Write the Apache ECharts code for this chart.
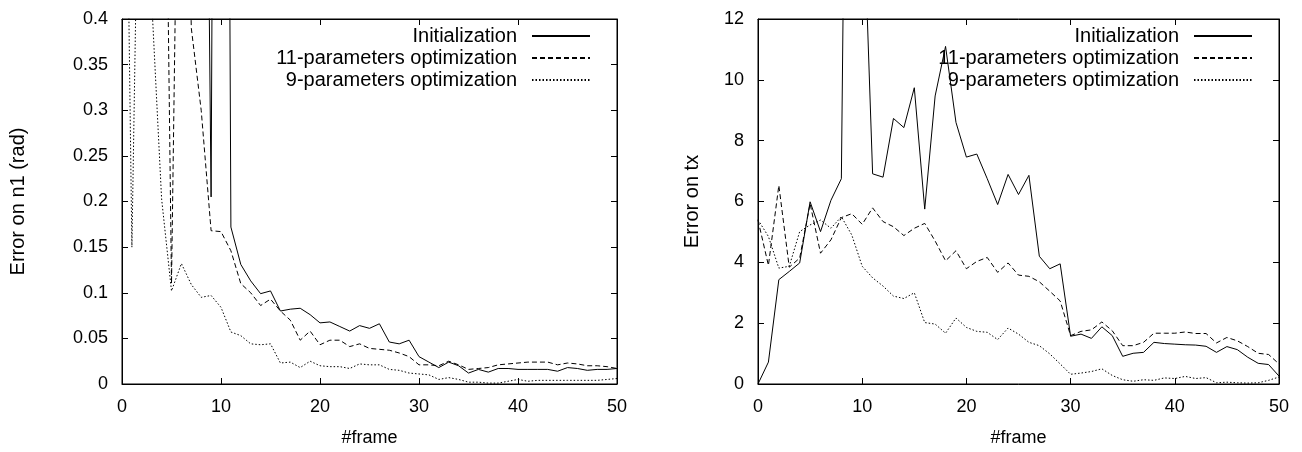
<!DOCTYPE html>
<html>
<head>
<meta charset="utf-8">
<script src="https://cdn.jsdelivr.net/npm/echarts@6/dist/echarts.min.js"></script>
<style>
html,body{margin:0;padding:0;background:#fff;}
#chart{width:1302px;height:452px;}
</style>
</head>
<body>
<div id="chart"></div>
<script>
// ---- data ----
const frames = [0,1,2,3,4,5,6,7,8,9,10,11,12,13,14,15,16,17,18,19,20,21,22,23,24,25,26,27,28,29,30,31,32,33,34,35,36,37,38,39,40,41,42,43,44,45,46,47,48,49,50];
const seriesNames = ['Initialization', '11-parameters optimization', '9-parameters optimization'];

// Left panel: error on n1 (rad)  (values above 0.4 are off the chart)
const initN1 = [1.8,1.6,1.9,2.1,1.7,1.5,1.4,1.6,1.3,0.205,2.5,
  0.172,0.131,0.113,0.099,0.102,0.080,0.082,0.083,0.076,0.067,
  0.068,0.063,0.058,0.064,0.061,0.066,0.046,0.044,0.048,0.030,
  0.024,0.018,0.024,0.020,0.012,0.016,0.013,0.017,0.017,0.016,
  0.016,0.016,0.016,0.014,0.018,0.017,0.015,0.016,0.016,0.017];
const opt11N1 = [1.2,1.4,1.1,1.3,1.0,0.11,0.9,0.39,0.30,0.168,0.167,
  0.146,0.110,0.100,0.086,0.093,0.080,0.070,0.048,0.058,0.043,
  0.048,0.048,0.041,0.044,0.039,0.038,0.037,0.034,0.030,0.021,
  0.021,0.020,0.025,0.021,0.016,0.017,0.018,0.021,0.022,0.023,
  0.024,0.024,0.024,0.021,0.023,0.022,0.020,0.020,0.019,0.017];
const opt9N1 = [0.98,0.15,0.82,0.42,0.203,0.102,0.132,0.109,0.095,0.097,0.084,
  0.057,0.053,0.044,0.043,0.044,0.023,0.024,0.018,0.025,0.020,
  0.019,0.019,0.017,0.022,0.021,0.021,0.016,0.015,0.012,0.011,
  0.010,0.005,0.007,0.005,0.002,0.002,0.001,0.001,0.003,0.005,
  0.003,0.004,0.004,0.004,0.004,0.004,0.004,0.004,0.005,0.006];

// Right panel: error on tx  (values above 12 are off the chart)
const initTx = [0,0.72,3.43,3.7,3.98,5.99,5.01,6.04,6.75,40,
  17,6.91,6.8,8.73,8.43,9.74,5.75,9.47,11.1,8.6,
  7.46,7.56,6.75,5.9,6.89,6.23,6.86,4.2,3.79,3.95,
  1.57,1.64,1.5,1.88,1.59,0.91,1.01,1.04,1.37,1.33,
  1.31,1.29,1.28,1.24,1.04,1.23,1.13,0.88,0.68,0.64,0.26];
const opt11Tx = [5.39,3.9,6.53,3.84,4.14,5.93,4.3,4.74,5.47,5.6,
  5.25,5.79,5.34,5.17,4.88,5.12,5.28,4.7,4.05,4.38,
  3.79,4.03,4.16,3.67,3.98,3.58,3.54,3.36,3.05,2.73,
  1.59,1.73,1.78,2.04,1.75,1.26,1.26,1.37,1.67,1.67,
  1.67,1.71,1.66,1.66,1.35,1.53,1.42,1.23,1.01,0.97,0.66];
const opt9Tx = [5.4,4.85,3.81,3.87,5.01,5.23,5.39,5.12,5.5,4.9,
  3.87,3.49,3.22,2.89,2.81,3.0,2.02,1.97,1.67,2.17,
  1.86,1.73,1.7,1.46,1.84,1.64,1.37,1.26,0.99,0.66,
  0.32,0.36,0.41,0.5,0.28,0.14,0.09,0.14,0.12,0.2,
  0.18,0.25,0.18,0.21,0.04,0.06,0.04,0.03,0.04,0.12,0.23];

const xTicks = {min: 0, max: 50, interval: 10};
const yTicksN1 = {min: 0, max: 0.4, interval: 0.05};
const yTicksTx = {min: 0, max: 12, interval: 2};

// ---- styling ----
const FONT = '"Liberation Sans", Arial, Helvetica, sans-serif';
const TICK_FS = 18;
const NAME_FS = 20;
const XNAME_FS = 18;
const LEG_FS = 20;
const pair = (ys) => frames.map((f, i) => [f, ys[i]]);
const lineTypes = ['solid', [5, 3], [1.5, 2]];

function axisBase(extra) {
  return Object.assign({
    type: 'value',
    axisLine: {show: true, onZero: false, lineStyle: {color: '#000', width: 1}},
    axisTick: {show: true, inside: true, length: 6, lineStyle: {color: '#000', width: 1}},
    splitLine: {show: false},
    axisLabel: {show: true, color: '#000', fontSize: TICK_FS, fontFamily: FONT},
    nameTextStyle: {color: '#000', fontSize: NAME_FS, fontFamily: FONT}
  }, extra);
}
function mirror(a) {
  a.axisLabel = {show: false};
  a.name = '';
  return a;
}

function mkSeries(name, data, xi, yi, k) {
  return {
    name: name, type: 'line', data: pair(data),
    xAxisIndex: xi, yAxisIndex: yi,
    symbol: 'none', clip: true, animation: false,
    lineStyle: {color: '#000', width: 1, type: lineTypes[k]},
    itemStyle: {color: '#000'}
  };
}

function mkLegend(right) {
  return {
    data: seriesNames, orient: 'vertical', align: 'right',
    right: right, top: 25, padding: 0,
    itemWidth: 58, itemHeight: 14, itemGap: 0,
    selectedMode: false,
    itemStyle: {opacity: 0},
    textStyle: {color: '#000', fontSize: LEG_FS, fontFamily: FONT, lineHeight: 22, padding: [0, 10, 0, 0]}
  };
}

const xLabel = {color: '#000', fontSize: TICK_FS, fontFamily: FONT, margin: 14};
const yLabel = {color: '#000', fontSize: TICK_FS, fontFamily: FONT, margin: 14};
const xName = {color: '#000', fontSize: XNAME_FS, fontFamily: FONT};

const option = {
  backgroundColor: '#fff',
  animation: false,
  grid: [
    {left: 122, top: 19, width: 495, height: 368, show: true, borderColor: '#000', borderWidth: 1},
    {left: 758, top: 19, width: 521, height: 368, show: true, borderColor: '#000', borderWidth: 1}
  ],
  legend: [mkLegend(711), mkLegend(49)],
  xAxis: [
    axisBase(Object.assign({gridIndex: 0, position: 'bottom', name: '#frame', nameLocation: 'middle', nameGap: 45, axisLabel: xLabel, nameTextStyle: xName}, xTicks)),
    mirror(axisBase(Object.assign({gridIndex: 0, position: 'top'}, xTicks))),
    axisBase(Object.assign({gridIndex: 1, position: 'bottom', name: '#frame', nameLocation: 'middle', nameGap: 45, axisLabel: xLabel, nameTextStyle: xName}, xTicks)),
    mirror(axisBase(Object.assign({gridIndex: 1, position: 'top'}, xTicks)))
  ],
  yAxis: [
    axisBase(Object.assign({gridIndex: 0, position: 'left', name: 'Error on n1 (rad)', nameLocation: 'middle', nameGap: 94, axisLabel: yLabel}, yTicksN1)),
    mirror(axisBase(Object.assign({gridIndex: 0, position: 'right'}, yTicksN1))),
    axisBase(Object.assign({gridIndex: 1, position: 'left', name: 'Error on tx', nameLocation: 'middle', nameGap: 56, axisLabel: yLabel}, yTicksTx)),
    mirror(axisBase(Object.assign({gridIndex: 1, position: 'right'}, yTicksTx)))
  ],
  series: [
    mkSeries(seriesNames[0], initN1, 0, 0, 0),
    mkSeries(seriesNames[1], opt11N1, 0, 0, 1),
    mkSeries(seriesNames[2], opt9N1, 0, 0, 2),
    mkSeries(seriesNames[0], initTx, 2, 2, 0),
    mkSeries(seriesNames[1], opt11Tx, 2, 2, 1),
    mkSeries(seriesNames[2], opt9Tx, 2, 2, 2)
  ]
};

const chart = echarts.init(document.getElementById('chart'), null, {renderer: 'canvas'});
chart.setOption(option);
</script>
</body>
</html>
